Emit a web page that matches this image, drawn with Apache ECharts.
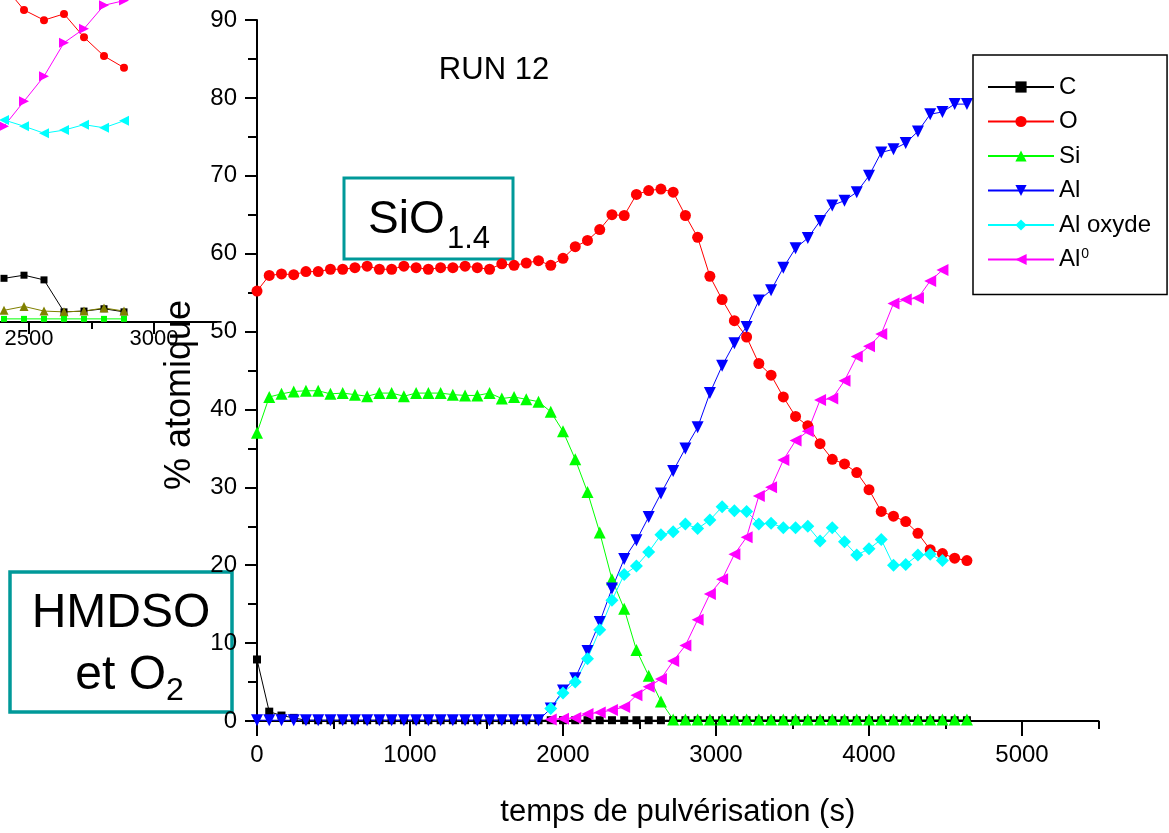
<!DOCTYPE html>
<html>
<head>
<meta charset="utf-8">
<script src="https://cdn.jsdelivr.net/npm/echarts@6/dist/echarts.min.js"></script>
<style>
  html, body { margin: 0; padding: 0; background: #fff; }
  #chart { width: 1169px; height: 833px; }
</style>
</head>
<body>
<div id="chart"></div>
<script>
// Sputtering time (s), one profile point every step
const time = [0, 80, 160, 240, 320, 400, 480, 560, 640, 720,
  800, 880, 960, 1040, 1120, 1200, 1280, 1360, 1440, 1520,
  1600, 1680, 1760, 1840, 1920, 2000, 2080, 2160, 2240, 2320,
  2400, 2480, 2560, 2640, 2720, 2800, 2880, 2960, 3040, 3120,
  3200, 3280, 3360, 3440, 3520, 3600, 3680, 3760, 3840, 3920,
  4000, 4080, 4160, 4240, 4320, 4400, 4480, 4560, 4640];

// % atomique for RUN 12
const valC = [7.9, 1.2, 0.7, 0.4, 0.1, 0.1, 0.1, 0.1, 0.1, 0.1,
  0.1, 0.1, 0.1, 0.1, 0.1, 0.1, 0.1, 0.1, 0.1, 0.1,
  0.1, 0.1, 0.1, 0.1, 0.1, 0.1, 0.1, 0.1, 0.1, 0.1,
  0.1, 0.1, 0.1, 0.1, 0.1, 0.1, 0.1, 0.1, 0.1, 0.1,
  0.1, 0.1, 0.1, 0.1, 0.1, 0.1, 0.1, 0.1, 0.1, 0.1,
  0.1, 0.1, 0.1, 0.1, 0.1, 0.1, 0.1, 0.1, 0.1];
const valO = [55.2, 57.2, 57.4, 57.3, 57.7, 57.7, 58.0, 58.0, 58.2, 58.4,
  58.0, 58.0, 58.4, 58.2, 58.0, 58.2, 58.2, 58.4, 58.2, 58.0,
  58.7, 58.5, 58.8, 59.1, 58.5, 59.4, 60.9, 61.7, 63.1, 65.0,
  64.9, 67.6, 68.1, 68.3, 67.9, 64.9, 62.1, 57.1, 54.1, 51.4,
  49.3, 45.9, 44.4, 41.6, 39.1, 37.9, 35.6, 33.6, 33.0, 31.9,
  29.7, 26.9, 26.3, 25.6, 24.1, 22.0, 21.5, 20.9, 20.6];
const valSi = [37.0, 41.6, 42.0, 42.3, 42.4, 42.4, 42.0, 42.1, 41.9, 41.7,
  42.1, 42.1, 41.7, 42.1, 42.1, 42.1, 41.9, 41.8, 41.8, 42.1,
  41.4, 41.6, 41.3, 41.0, 39.7, 37.2, 33.6, 29.4, 24.2, 18.2,
  14.4, 9.1, 5.8, 2.5, 0.2, 0.2, 0.2, 0.2, 0.2, 0.2,
  0.2, 0.2, 0.2, 0.2, 0.2, 0.2, 0.2, 0.2, 0.2, 0.2,
  0.2, 0.2, 0.2, 0.2, 0.2, 0.2, 0.2, 0.2, 0.2];
const valAl = [0.1, 0.1, 0.1, 0.1, 0.1, 0.1, 0.1, 0.1, 0.1, 0.1,
  0.1, 0.1, 0.1, 0.1, 0.1, 0.1, 0.1, 0.1, 0.1, 0.1,
  0.1, 0.1, 0.1, 0.1, 1.6, 3.9, 5.5, 9.0, 12.7, 17.0,
  20.8, 23.2, 26.2, 29.2, 32.1, 35.0, 37.7, 42.1, 45.6, 48.5,
  50.6, 54.0, 55.3, 58.2, 60.7, 62.0, 64.2, 66.2, 66.8, 67.9,
  70.0, 73.0, 73.4, 74.2, 75.7, 77.9, 78.2, 79.2, 79.2];
const valAlOx = [null, null, null, null, null, null, null, null, null, null,
  null, null, null, null, null, null, null, null, null, null,
  null, null, null, null, 1.6, 3.6, 5.0, 8.0, 11.7, 15.5,
  18.8, 19.9, 21.7, 23.9, 24.3, 25.3, 24.7, 25.8, 27.5, 27.0,
  26.9, 25.3, 25.4, 24.8, 24.8, 25.0, 23.1, 24.8, 23.0, 21.3,
  22.1, 23.3, 20.0, 20.1, 21.3, 21.4, 20.6];
const valAl0 = [null, null, null, null, null, null, null, null, null, null,
  null, null, null, null, null, null, null, null, null, null,
  null, null, null, null, 0.2, 0.3, 0.4, 0.9, 1.1, 1.4,
  1.8, 3.3, 4.4, 5.4, 7.7, 9.7, 13.0, 16.3, 18.2, 21.4,
  23.6, 28.9, 30.0, 33.5, 36.0, 37.2, 41.2, 41.4, 43.7, 46.8,
  48.1, 49.7, 53.6, 54.1, 54.3, 56.5, 57.9];

// Piece of an other profile pasted behind the top left corner
const fragTime = [2400, 2480, 2560, 2640, 2720, 2800, 2880];
const fragO = [43.1, 40.0, 38.7, 39.5, 36.5, 34.1, 32.6];
const fragAl0 = [25.1, 28.3, 31.5, 35.8, 37.6, 40.6, 41.2];
const fragAlOx = [25.9, 25.1, 24.2, 24.6, 25.3, 24.9, 25.8];
const fragC = [5.6, 6.0, 5.4, 1.3, 1.4, 1.7, 1.3];
const fragSi = [1.5, 2.0, 1.4, 1.3, 1.4, 1.8, 1.4];
const fragN = [0.4, 0.4, 0.4, 0.4, 0.4, 0.4, 0.4];

const xMajor = [0, 1000, 2000, 3000, 4000, 5000];
const xMinor = [500, 1500, 2500, 3500, 4500, 5500];
const fragMajor = [2500, 3000];
const fragMinor = [2750];

const font = 'Liberation Sans, Arial, sans-serif';
const teal = '#009999';

function pairs(xs, vals) {
    const out = [];
    vals.forEach((v, i) => {
        if (v !== null) out.push([xs[i], v]);
    });
    return out;
}

function line(name, xs, vals, symbol, size, color, rotate, xi) {
    return {
        name: name,
        type: 'line',
        xAxisIndex: xi,
        yAxisIndex: xi === 0 ? 0 : 1,
        data: pairs(xs, vals),
        symbol: symbol,
        symbolSize: size,
        symbolRotate: rotate,
        itemStyle: {color: color},
        lineStyle: {color: color, width: 1},
        emphasis: {disabled: true},
        animation: false
    };
}

const chart = echarts.init(document.getElementById('chart'));

const tickStyle = {color: '#000', width: 2};
const plain = v => String(v);

const option = {
    backgroundColor: '#fff',
    grid: [
        {left: 257, top: 20, width: 841.5, height: 702},
        // the pasted piece: its left part is cut off by the page edge
        {left: 0, top: 0, width: 216.5, height: 322}
    ],
    xAxis: [{
        type: 'value', gridIndex: 0, position: 'bottom',
        min: 0, max: 5500,
        axisLine: {lineStyle: {color: '#000', width: 2}},
        axisTick: {customValues: xMajor, length: 15, lineStyle: tickStyle},
        axisLabel: {customValues: xMajor, formatter: plain, fontSize: 24, color: '#000', fontFamily: font, margin: 22},
        splitLine: {show: false},
        name: 'temps de pulvérisation (s)',
        nameLocation: 'middle',
        nameGap: 76,
        nameTextStyle: {fontSize: 31, color: '#000', fontFamily: font}
    }, {
        // minor ticks of the main x axis
        type: 'value', gridIndex: 0, position: 'bottom',
        min: 0, max: 5500,
        axisLine: {show: false},
        axisTick: {customValues: xMinor, length: 8, lineStyle: tickStyle},
        axisLabel: {show: false},
        splitLine: {show: false}
    }, {
        type: 'value', gridIndex: 1, position: 'bottom',
        min: 2384, max: 3250,
        axisLine: {lineStyle: {color: '#000', width: 2}},
        axisTick: {customValues: fragMajor, length: 12, lineStyle: tickStyle},
        axisLabel: {customValues: fragMajor, formatter: plain, fontSize: 22, color: '#000', fontFamily: font, margin: 6},
        splitLine: {show: false}
    }, {
        type: 'value', gridIndex: 1, position: 'bottom',
        min: 2384, max: 3250,
        axisLine: {show: false},
        axisTick: {customValues: fragMinor, length: 7, lineStyle: tickStyle},
        axisLabel: {show: false},
        splitLine: {show: false}
    }],
    yAxis: [{
        type: 'value', gridIndex: 0,
        min: 0, max: 90, interval: 10,
        axisLine: {show: true, lineStyle: {color: '#000', width: 2}},
        axisTick: {show: true, length: 12, lineStyle: tickStyle},
        minorTick: {show: true, splitNumber: 2, length: 9, lineStyle: tickStyle},
        axisLabel: {fontSize: 24, color: '#000', fontFamily: font, margin: 20},
        splitLine: {show: false}
    }, {
        type: 'value', gridIndex: 1,
        min: 0, max: 41.28,
        show: false
    }],
    legend: {
        data: ['C', 'O', 'Si', 'Al', 'Al oxyde', 'Al0'],
        orient: 'vertical',
        left: 973, top: 55,
        padding: [20, 16, 23, 14],
        itemWidth: 66, itemHeight: 14, itemGap: 10.5,
        borderColor: '#000', borderWidth: 1.5,
        selectedMode: false,
        formatter: function (name) {
            if (name === 'Al0') return '{t|Al}{s|0}';
            return '{t|' + name + '}';
        },
        textStyle: {
            color: '#000',
            rich: {
                t: {fontSize: 24, lineHeight: 24, fontFamily: font, color: '#000'},
                s: {fontSize: 14, lineHeight: 24, fontFamily: font, color: '#000',
                    verticalAlign: 'top', padding: [0, 0, 10, 1]}
            }
        }
    },
    series: [
        line('C frag', fragTime, fragC, 'rect', 7, '#000', 0, 2),
        line('Si frag', fragTime, fragSi, 'triangle', 9, '#808000', 0, 2),
        line('N frag', fragTime, fragN, 'rect', 6, '#00ff00', 0, 2),
        line('O frag', fragTime, fragO, 'circle', 8, '#ff0000', 0, 2),
        line('AlOx frag', fragTime, fragAlOx, 'triangle', 10, '#00ffff', 90, 2),
        line('Al0 frag', fragTime, fragAl0, 'triangle', 10, '#ff00ff', -90, 2),
        line('C', time, valC, 'rect', 8, '#000000', 0, 0),
        line('O', time, valO, 'circle', 11, '#ff0000', 0, 0),
        line('Si', time, valSi, 'triangle', 12, '#00ff00', 0, 0),
        line('Al', time, valAl, 'triangle', 12, '#0000ff', 180, 0),
        line('Al oxyde', time, valAlOx, 'diamond', 13, '#00ffff', 0, 0),
        line('Al0', time, valAl0, 'triangle', 12, '#ff00ff', 90, 0)
    ],
    graphic: [
        {
            type: 'text', x: 180, y: 395, rotation: Math.PI / 2,
            style: {text: '% atomique', fontSize: 36, fontFamily: font, fill: '#000',
                    align: 'center', verticalAlign: 'middle', textAlign: 'center', textVerticalAlign: 'middle'}
        },
        {
            type: 'text', x: 494, y: 70,
            style: {text: 'RUN 12', fontSize: 31, fontFamily: font, fill: '#000',
                    align: 'center', verticalAlign: 'middle', textAlign: 'center', textVerticalAlign: 'middle'}
        },
        {
            type: 'rect', shape: {x: 344, y: 178, width: 169, height: 81},
            style: {fill: 'none', stroke: teal, lineWidth: 3}
        },
        {
            type: 'text', x: 368, y: 220,
            style: {text: 'SiO', fontSize: 46, fontFamily: font, fill: '#000',
                    align: 'left', verticalAlign: 'middle', textAlign: 'left', textVerticalAlign: 'middle'}
        },
        {
            type: 'text', x: 447, y: 239,
            style: {text: '1.4', fontSize: 31, fontFamily: font, fill: '#000',
                    align: 'left', verticalAlign: 'middle', textAlign: 'left', textVerticalAlign: 'middle'}
        },
        {
            type: 'rect', shape: {x: 10, y: 572, width: 222, height: 140},
            style: {fill: 'none', stroke: teal, lineWidth: 3.5}
        },
        {
            type: 'text', x: 121, y: 614,
            style: {text: 'HMDSO', fontSize: 48, fontFamily: font, fill: '#000',
                    align: 'center', verticalAlign: 'middle', textAlign: 'center', textVerticalAlign: 'middle'}
        },
        {
            type: 'text', x: 166, y: 676,
            style: {text: 'et O', fontSize: 48, fontFamily: font, fill: '#000',
                    align: 'right', verticalAlign: 'middle', textAlign: 'right', textVerticalAlign: 'middle'}
        },
        {
            type: 'text', x: 166, y: 691,
            style: {text: '2', fontSize: 32, fontFamily: font, fill: '#000',
                    align: 'left', verticalAlign: 'middle', textAlign: 'left', textVerticalAlign: 'middle'}
        }
    ]
};

chart.setOption(option);
</script>
</body>
</html>
